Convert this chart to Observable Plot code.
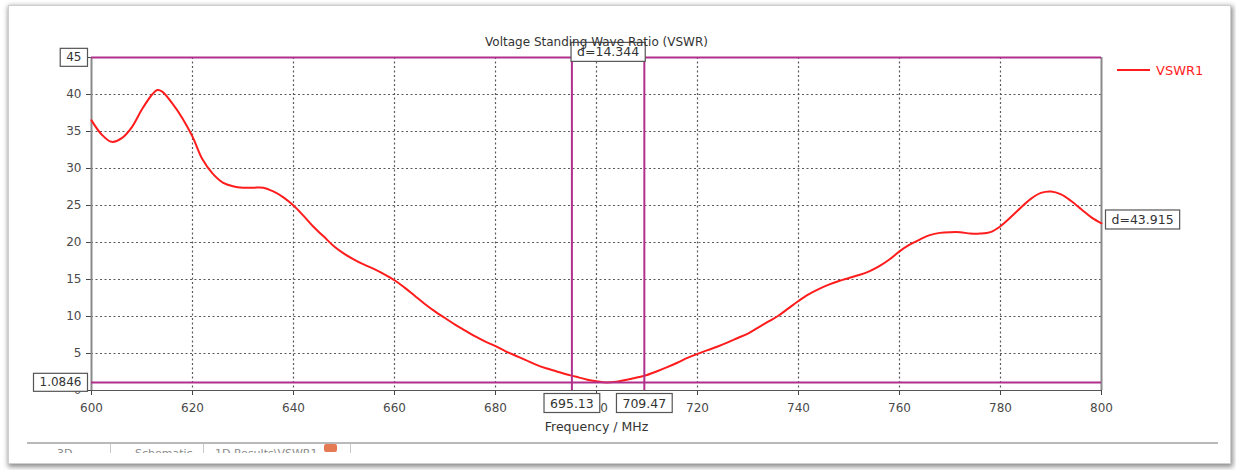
<!DOCTYPE html>
<html>
<head>
<meta charset="utf-8">
<script src="https://cdn.jsdelivr.net/npm/d3@7"></script>
<script src="https://cdn.jsdelivr.net/npm/@observablehq/plot@0.6"></script>
<style>
  html, body { margin: 0; padding: 0; background: #fff; width: 1236px; height: 470px; overflow: hidden; }
  #win { position: absolute; left: 8px; top: 5px; width: 1221px; height: 457px; background: #fff;
         border: 1px solid #cfcfcf; box-shadow: 1px 2px 5px 1px rgba(0,0,0,0.45); }
  #chart { position: absolute; left: 0; top: 0; }
  #tabs { position: absolute; left: 27px; top: 442px; width: 1191px; height: 9px; overflow: hidden;
          border-top: 2px solid #b9b9b9; font: 11px "DejaVu Sans", sans-serif; color: #8a8a8a; }
  #tabs span { position: absolute; top: 3px; white-space: nowrap; }
  #tabs i { position: absolute; top: 0; width: 1px; height: 9px; background: #c8c8c8; }
  #tabs b { position: absolute; top: 0; left: 297px; width: 13px; height: 8px; background: #e57a52; border-radius: 2px; }
</style>
</head>
<body>
<div id="win"></div>
<div id="tabs">
  <span style="left:30px">3D</span><i style="left:83px"></i>
  <span style="left:108px">Schematic</span><i style="left:176px"></i>
  <span style="left:188px">1D Results\VSWR1</span><b></b><i style="left:323px"></i>
</div>
<div id="chart"></div>
<script>
// Frequency sweep (MHz) and the VSWR read at each point
const freq = [600, 602, 604, 606, 608, 610, 612, 613, 614, 616, 618, 620, 622, 624, 626, 628, 630, 632, 634, 636, 638,
  640, 642, 644, 646, 648, 650, 652, 654, 656, 658, 660, 662, 664, 666, 668, 670, 672, 674, 676, 678, 680, 682, 684,
  686, 688, 690, 692, 694, 695.128, 696, 698, 700, 702, 704, 706, 708, 709.472, 710, 712, 714, 716, 718, 720, 722,
  724, 726, 728, 730, 732, 734, 736, 738, 740, 742, 744, 746, 748, 750, 752, 754, 756, 758, 760, 762, 764, 766, 768,
  770, 772, 774, 776, 778, 780, 782, 784, 786, 788, 790, 792, 794, 796, 798, 800];
const vswr = [36.5, 34.6, 33.6, 34.1, 35.6, 38.0, 40.0, 40.6, 40.4, 38.8, 36.8, 34.3, 31.2, 29.3, 28.1, 27.6, 27.4, 27.4,
  27.4, 26.9, 26.1, 25.0, 23.6, 22.1, 20.8, 19.5, 18.5, 17.7, 17.0, 16.4, 15.7, 14.9, 13.9, 12.8, 11.7, 10.7, 9.8,
  8.9, 8.1, 7.3, 6.6, 6.0, 5.3, 4.7, 4.1, 3.5, 3.0, 2.6, 2.2, 2.0, 1.85, 1.5, 1.25, 1.0846, 1.2, 1.45, 1.75, 2.0,
  2.1, 2.6, 3.15, 3.75, 4.4, 4.95, 5.45, 5.95, 6.5, 7.1, 7.7, 8.5, 9.3, 10.1, 11.1, 12.1, 13.0, 13.7, 14.3, 14.8, 15.2,
  15.6, 16.1, 16.8, 17.7, 18.8, 19.7, 20.4, 21.0, 21.3, 21.4, 21.4, 21.2, 21.2, 21.4, 22.2, 23.4, 24.7, 25.9, 26.7,
  26.9, 26.5, 25.6, 24.5, 23.4, 22.6];

// Marker positions: two frequency cursors and two level cursors
const markerFreqs = [695.128, 709.472];
const markerLevels = [45, 1.0846];

// Axis ticks
const xTicks = d3.range(600, 801, 20);
const yTicks = d3.range(0, 46, 5);

const title = "Voltage Standing Wave Ratio (VSWR)";
const xLabel = "Frequency / MHz";
const seriesName = "VSWR1";

const curveColor = "#ff1c1c";
const cursorColor = "#b0308c";

const data = freq.map((f, i) => ({f, v: vswr[i]}));
const freqSpan = (markerFreqs[1] - markerFreqs[0]).toFixed(3);
const levelSpan = (markerLevels[0] - markerLevels[1]).toFixed(3);

const plot = Plot.plot({
  width: 1236,
  height: 470,
  marginLeft: 91,
  marginRight: 135,
  marginTop: 57,
  marginBottom: 80,
  style: {fontFamily: "'DejaVu Sans', sans-serif", fontSize: "12px", color: "#4a4a4a", background: "transparent", overflow: "visible"},
  x: {domain: [600, 800]},
  y: {domain: [0, 45]},
  marks: [
    Plot.gridX(xTicks.slice(1, -1), {stroke: "#5a5a5a", strokeOpacity: 1, strokeDasharray: "2,2.5", strokeWidth: 1.2}),
    Plot.gridY(yTicks.slice(1, -1), {stroke: "#5a5a5a", strokeOpacity: 1, strokeDasharray: "2,2.5", strokeWidth: 1.2}),
    Plot.axisX(xTicks, {tickSize: 5, tickPadding: 8, label: null, stroke: "#444", fill: "#4a4a4a", fontSize: 12}),
    Plot.axisY(yTicks, {tickSize: 5, tickPadding: 5, label: null, stroke: "#444", fill: "#4a4a4a", fontSize: 12}),
    Plot.ruleX([600], {stroke: "#8a8a8a", strokeWidth: 2}),
    Plot.ruleX([800], {stroke: "#8a8a8a", strokeWidth: 2}),
    Plot.ruleY([0], {stroke: "#555", strokeWidth: 1.2}),
    Plot.line(data, {x: "f", y: "v", stroke: curveColor, strokeWidth: 2, curve: "catmull-rom"}),
    Plot.ruleY(markerLevels, {stroke: cursorColor, strokeWidth: 2}),
    Plot.ruleX(markerFreqs, {y1: 0, y2: 45, stroke: cursorColor, strokeWidth: 2}),
    // cursor readouts
    Plot.text(markerLevels, {y: d => d, frameAnchor: "left", textAnchor: "end", dx: -10,
      text: d => String(d), fill: "#333", fontSize: 12, className: "boxed"}),
    Plot.text(markerFreqs, {x: d => d, frameAnchor: "bottom", dy: 17,
      text: d => d.toFixed(2), fill: "#333", fontSize: 12.5, className: "boxed"}),
    Plot.text([d3.mean(markerLevels)], {y: d => d, frameAnchor: "right", textAnchor: "start", dx: 10,
      text: () => "d=" + levelSpan, fill: "#333", fontSize: 12.5, className: "boxed"}),
    Plot.text([d3.mean(markerFreqs)], {x: d => d, frameAnchor: "top", dy: -10,
      text: () => "d=" + freqSpan, fill: "#333", fontSize: 12.5, className: "boxed"}),
    // titles
    Plot.text([title], {frameAnchor: "top", dy: -20, fill: "#333", fontSize: 12}),
    Plot.text([xLabel], {frameAnchor: "bottom", dy: 40, fill: "#333", fontSize: 12.5})
  ]
});

document.getElementById("chart").appendChild(plot);

// Framed readout boxes behind the cursor labels
const svg = d3.select(plot);
svg.selectAll("g.boxed text").each(function () {
  const b = this.getBBox();
  const r = document.createElementNS("http://www.w3.org/2000/svg", "rect");
  const padX = 6, padY = 2;
  r.setAttribute("x", b.x - padX);
  r.setAttribute("y", b.y - padY);
  r.setAttribute("width", b.width + 2 * padX);
  r.setAttribute("height", b.height + 2 * padY);
  r.setAttribute("fill", "#fff");
  r.setAttribute("stroke", "#555");
  r.setAttribute("stroke-width", 1.2);
  const t = this.getAttribute("transform");
  if (t) r.setAttribute("transform", t);
  this.parentNode.insertBefore(r, this);
});

// Series legend at the right of the plot
const leg = svg.append("g").attr("transform", "translate(1117,70)");
leg.append("line").attr("x1", 0).attr("x2", 33).attr("stroke", curveColor).attr("stroke-width", 2);
leg.append("text").attr("x", 39).attr("dy", "0.35em").attr("fill", curveColor)
  .attr("text-anchor", "start").attr("font-size", 13)
  .attr("font-family", "'DejaVu Sans', sans-serif").text(seriesName);
</script>
</body>
</html>
